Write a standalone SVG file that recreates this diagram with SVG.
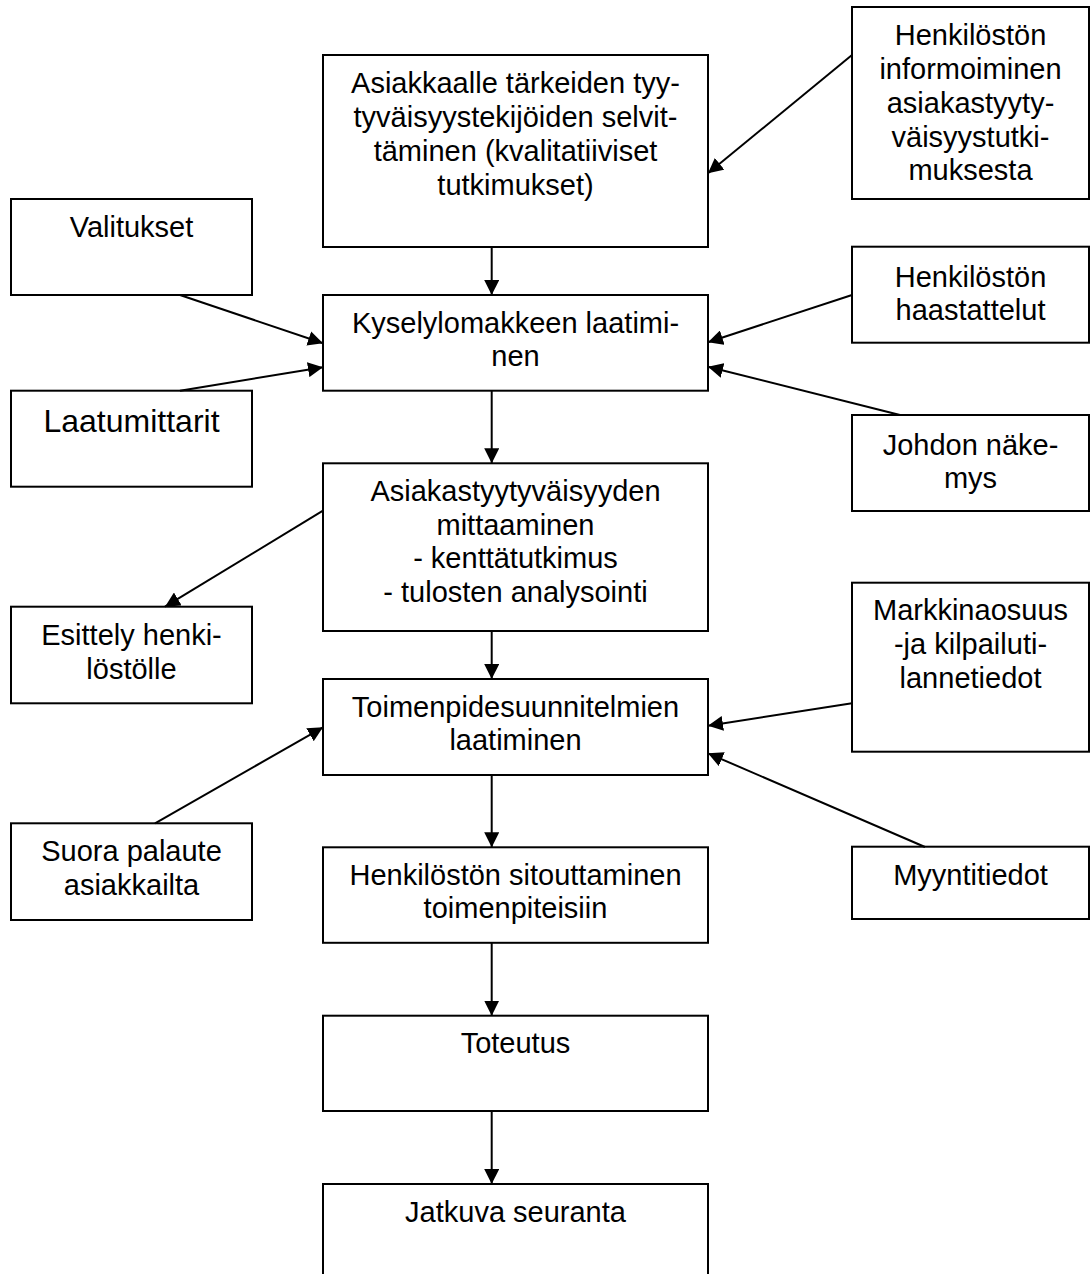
<svg xmlns="http://www.w3.org/2000/svg" width="1090" height="1274" viewBox="0 0 1090 1274">
<style>
.box{fill:#fff;stroke:#000;stroke-width:2}
.t{font-family:"Liberation Sans",Arial,sans-serif;font-size:29px;fill:#000;text-anchor:middle}
.big{font-size:32px}
.c{stroke:#000;stroke-width:2;fill:none;marker-end:url(#ah)}
</style>
<defs>
<marker id="ah" viewBox="0 0 15 15" refX="15" refY="7.5" markerWidth="15" markerHeight="15" orient="auto" markerUnits="userSpaceOnUse"><path d="M0,0 L15,7.5 L0,15 z" fill="#000"/></marker>
</defs>
<rect width="1090" height="1274" fill="#fff"/>
<g id="n-top"><rect class="box" x="323" y="55" width="385" height="192"/>
<text class="t" x="515.5"><tspan x="515.5" y="93">Asiakkaalle tärkeiden tyy-</tspan><tspan x="515.5" y="127">tyväisyystekijöiden selvit-</tspan><tspan x="515.5" y="161">täminen (kvalitatiiviset</tspan><tspan x="515.5" y="195">tutkimukset)</tspan></text></g>
<g id="n-kysely"><rect class="box" x="323" y="295" width="385" height="95.7"/>
<text class="t"><tspan x="515.5" y="333">Kyselylomakkeen laatimi-</tspan><tspan x="515.5" y="366">nen</tspan></text></g>
<g id="n-asiak"><rect class="box" x="323" y="463.3" width="385" height="167.7"/>
<text class="t"><tspan x="515.5" y="501">Asiakastyytyväisyyden</tspan><tspan x="515.5" y="534.5">mittaaminen</tspan><tspan x="515.5" y="568">- kenttätutkimus</tspan><tspan x="515.5" y="601.5">- tulosten analysointi</tspan></text></g>
<g id="n-toimen"><rect class="box" x="323" y="679" width="385" height="96"/>
<text class="t"><tspan x="515.5" y="716.5">Toimenpidesuunnitelmien</tspan><tspan x="515.5" y="750">laatiminen</tspan></text></g>
<g id="n-sitout"><rect class="box" x="323" y="847.3" width="385" height="95.5"/>
<text class="t"><tspan x="515.5" y="885">Henkilöstön sitouttaminen</tspan><tspan x="515.5" y="917.5">toimenpiteisiin</tspan></text></g>
<g id="n-toteutus"><rect class="box" x="323" y="1015.7" width="385" height="95.3"/>
<text class="t" x="515.5" y="1053">Toteutus</text></g>
<g id="n-jatkuva"><rect class="box" x="323" y="1184" width="385" height="100"/>
<text class="t" x="515.5" y="1221.5">Jatkuva seuranta</text></g>
<g id="n-valitukset"><rect class="box" x="11" y="199" width="241" height="96"/>
<text class="t" x="131.5" y="236.5">Valitukset</text></g>
<g id="n-laatu"><rect class="box" x="11" y="390.7" width="241" height="96"/>
<text class="t big" x="131.5" y="431.5">Laatumittarit</text></g>
<g id="n-esittely"><rect class="box" x="11" y="606.7" width="241" height="96.6"/>
<text class="t"><tspan x="131.5" y="645">Esittely henki-</tspan><tspan x="131.5" y="678.5">löstölle</tspan></text></g>
<g id="n-suora"><rect class="box" x="11" y="823.3" width="241" height="96.7"/>
<text class="t"><tspan x="131.5" y="860.5">Suora palaute</tspan><tspan x="131.5" y="894.5">asiakkailta</tspan></text></g>
<g id="n-inform"><rect class="box" x="852" y="7" width="237" height="192"/>
<text class="t"><tspan x="970.5" y="45">Henkilöstön</tspan><tspan x="970.5" y="79">informoiminen</tspan><tspan x="970.5" y="113">asiakastyyty-</tspan><tspan x="970.5" y="146.5">väisyystutki-</tspan><tspan x="970.5" y="180">muksesta</tspan></text></g>
<g id="n-haast"><rect class="box" x="852" y="246.7" width="237" height="96"/>
<text class="t"><tspan x="970.5" y="287">Henkilöstön</tspan><tspan x="970.5" y="320">haastattelut</tspan></text></g>
<g id="n-johdon"><rect class="box" x="852" y="415" width="237" height="96"/>
<text class="t"><tspan x="970.5" y="455">Johdon näke-</tspan><tspan x="970.5" y="488">mys</tspan></text></g>
<g id="n-markk"><rect class="box" x="852" y="582.7" width="237" height="169"/>
<text class="t"><tspan x="970.5" y="620">Markkinaosuus</tspan><tspan x="970.5" y="654">-ja kilpailuti-</tspan><tspan x="970.5" y="688">lannetiedot</tspan></text></g>
<g id="n-myynti"><rect class="box" x="852" y="846.7" width="237" height="72.3"/>
<text class="t" x="970.5" y="885">Myyntitiedot</text></g>
<g id="connectors">
<line class="c" x1="491.7" y1="247" x2="491.7" y2="295"/>
<line class="c" x1="491.7" y1="390.7" x2="491.7" y2="463.3"/>
<line class="c" x1="491.7" y1="631" x2="491.7" y2="679"/>
<line class="c" x1="491.7" y1="775" x2="491.7" y2="847.3"/>
<line class="c" x1="491.7" y1="943" x2="491.7" y2="1015.7"/>
<line class="c" x1="491.7" y1="1111" x2="491.7" y2="1184"/>
<line class="c" x1="852" y1="55" x2="708" y2="173.3"/>
<line class="c" x1="180" y1="295" x2="323" y2="343.3"/>
<line class="c" x1="180" y1="390.7" x2="323" y2="367.3"/>
<line class="c" x1="852" y1="295" x2="708" y2="342.3"/>
<line class="c" x1="900" y1="415" x2="708" y2="366.7"/>
<line class="c" x1="323" y1="510.7" x2="165" y2="606.7"/>
<line class="c" x1="852" y1="703.3" x2="708" y2="725.7"/>
<line class="c" x1="925" y1="847" x2="708" y2="753.3"/>
<line class="c" x1="155" y1="823.3" x2="323" y2="727.3"/>
</g>
</svg>
